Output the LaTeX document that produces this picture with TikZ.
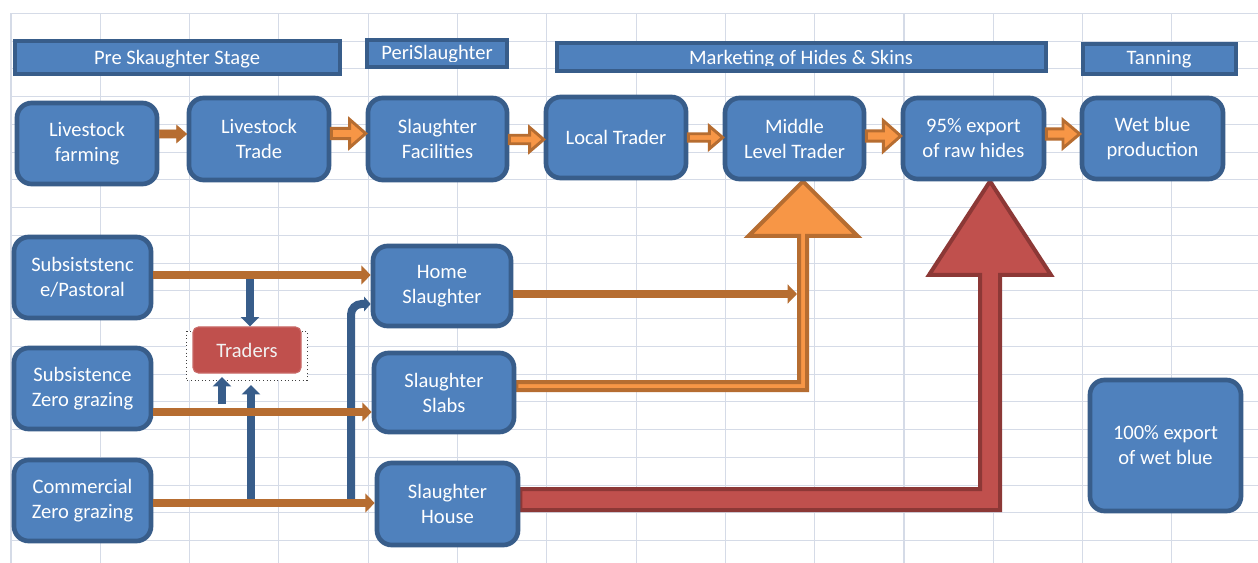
\documentclass[tikz,border=0pt]{standalone}
\usepackage{fontspec}
\setmainfont{Carlito}
\usetikzlibrary{arrows.meta,calc}
\pgfdeclarelayer{gridlayer}
\pgfdeclarelayer{bglayer}
\pgfsetlayers{gridlayer,bglayer,main}
\definecolor{bfill}{HTML}{4F81BD}
\definecolor{bline}{HTML}{385D8A}
\definecolor{brn}{HTML}{B66D31}
\definecolor{org}{HTML}{F79646}
\definecolor{rfill}{HTML}{C0504D}
\definecolor{rline}{HTML}{8C3836}
\definecolor{gridc}{HTML}{D5DBE7}
\newcommand\myfs{\fontsize{15.4pt}{18.75pt}\selectfont}
\tikzset{
  box/.style={draw=bline, fill=bfill, line width=3.5pt, rounded corners=11pt,
    inner sep=0pt, text=white, align=center, font=\myfs},
  hdr/.style={draw=bline, fill=bfill, line width=3pt, inner sep=0pt},
  hdrtext/.style={anchor=base, text=white, font=\myfs, inner sep=0pt},
  gridline/.style={draw=gridc, line width=0.8pt},
  solidarr/.style={fill=brn, draw=brn, line width=0.5pt},
  orgarr/.style={fill=org, draw=brn, line width=2.2pt, line join=miter},
  bigorg/.style={fill=org, draw=brn, line width=3pt, line join=miter},
  bigred/.style={fill=rfill, draw=rline, line width=3pt, line join=miter},
  brnline/.style={draw=brn, line width=6pt, -{Triangle[length=7pt,width=14pt]}},
  blueline/.style={draw=bline, line width=6pt, -{Triangle[length=7pt,width=13.5pt]}},
  traderbox/.style={fill=rfill, draw=rfill!85!white, line width=0.8pt, rounded corners=4pt,
    inner sep=0pt, text=white!95!black, font=\myfs},
  selframe/.style={draw=black!75, dotted, line width=0.7pt, fill=white},
}
% node with given pixel extents: style, name, x1, y1, x2, y2, text
\newcommand\bx[7]{%
  \node[#1, minimum width={(#5-#3)*0.75pt}, minimum height={(#6-#4)*0.75pt}]
    (#2) at ({(#3+#5)/2},{(#4+#6)/2}) {#7};}
% style, from node, to node, y (px), half shaft, half head, head length
\newcommand\blockarr[7]{%
  \path[#1] let \p1=(#2 |- 0,#4), \p2=(#3 |- 0,#4) in
   (\x1,\y1+#5) -- (\x2-#7,\y1+#5) -- (\x2-#7,\y1+#6) -- (\x2,\y1)
   -- (\x2-#7,\y1-#6) -- (\x2-#7,\y1-#5) -- (\x1,\y1-#5) -- cycle;}
\begin{document}
\begin{tikzpicture}[x=0.75pt, y=-0.75pt]
\useasboundingbox (0,0) rectangle (1258,563);
\begin{pgfonlayer}{gridlayer}
\fill[white] (0,0) rectangle (1258,563);
\foreach \k in {0,...,13} \draw[gridline] (11+89.3*\k,13.3) -- (11+89.3*\k,563);
\foreach \k in {0,...,19} \draw[gridline] (11,13.3+27.75*\k) -- (1258,13.3+27.75*\k);
\end{pgfonlayer}

% header bars
\bx{hdr}{h1}{14.5}{41.5}{339.5}{74.5}{}
\node[hdrtext] (h1t) at (177,65) {Pre Skaughter Stage};
\bx{hdr}{h2}{366.5}{40.5}{506.5}{67.5}{}
\begin{scope}
  \clip (366.5,40.5) rectangle (506.5,61.5);
  \node[hdrtext] (h2t) at (437,60) {PeriSlaughter};
\end{scope}
\bx{hdr}{h3}{556.5}{43.5}{1045.5}{71.5}{}
\begin{scope}
  \clip (556.5,43.5) rectangle (1045.5,65.8);
  \node[hdrtext] (h3t) at (801,64.5) {Marketing of Hides \& Skins};
\end{scope}
\bx{hdr}{h4}{1082.5}{44.5}{1235.5}{74.5}{}
\node[hdrtext] (h4t) at (1159,65) {Tanning};

% top row boxes
\bx{box}{lf}{17}{103}{157}{184}{Livestock\\farming}
\bx{box}{lt}{189}{98}{329}{180}{Livestock\\Trade}
\bx{box}{sf}{368}{98}{507}{180}{Slaughter\\Facilities}
\bx{box}{lo}{546}{97}{686}{178}{Local Trader}
\bx{box}{ml}{725}{98}{864}{179}{Middle\\Level Trader}
\bx{box}{ex}{903}{98}{1044}{179}{95\% export\\of raw hides}
\bx{box}{wb}{1082}{98}{1223}{179}{Wet blue\\production}

% lower boxes
\bx{box}{sp}{14}{237}{151}{318}{Subsiststenc\\e/Pastoral}
\bx{box}{sz}{14}{348}{151}{429}{Subsistence\\Zero grazing}
\bx{box}{cz}{14}{460}{151}{541}{Commercial\\Zero grazing}
\bx{box}{hs}{373}{246}{511}{326}{Home\\Slaughter}
\bx{box}{ss}{374}{353}{514}{432}{Slaughter\\Slabs}
\bx{box}{sh}{377}{463}{518}{545}{Slaughter\\House}
\bx{box}{wx}{1090}{380}{1241}{511}{100\% export\\of wet blue}

% big block arrows (behind the boxes)
\begin{pgfonlayer}{bglayer}
\draw[bigorg] (ss.east |- 0,382) -- (799,382) -- (799,236) -- (748.5,236)
  -- (803,0 |- ml.south) -- (857.5,236) -- (807,236) -- (807,390)
  -- (ss.east |- 0,390) -- cycle;
\draw[bigred] (sh.east |- 0,489) -- (980,489) -- (980,275) -- (929,275)
  -- (990,0 |- ex.south) -- (1051,275) -- (1000,275) -- (1000,510)
  -- (sh.east |- 0,510) -- cycle;
\end{pgfonlayer}

% traders
\draw[selframe] (186,331) rectangle (307,380);
\bx{traderbox}{tr}{193}{327}{301}{373}{Traders}

% blue connectors
\coordinate (j1) at (250,275);
\coordinate (j2) at (222,404);
\coordinate (j2t) at (222,377);
\coordinate (j3) at (251,500);
\coordinate (j3t) at (251,385);
\coordinate (j4) at (351,502);
\draw[blueline] (j1) -- (j1 |- tr.north);
\draw[blueline] (j2) -- (j2t);
\draw[blueline] (j3) -- (j3t);
\draw[draw=bline, line width=6pt, rounded corners=8pt, -{Triangle[length=5pt,width=11pt]}]
  (j4) |- (hs.west |- 0,304);

% brown connectors
\coordinate (mlin) at (797,294);
\draw[brnline] (sp.east |- 0,275) -- (hs.west |- 0,275);
\draw[brnline] (sz.east |- 0,412) -- (ss.west |- 0,412);
\draw[brnline] (cz.east |- 0,503) -- (sh.west |- 0,503);
\draw[brnline] (hs.east |- mlin) -- (mlin);

% top row block arrows
\blockarr{solidarr}{lf.east}{lt.west}{134}{3pt}{6.5pt}{7.5pt}
\blockarr{orgarr}{lt.east}{sf.west}{133.5}{3.8pt}{10.5pt}{12pt}
\blockarr{orgarr}{sf.east}{lo.west}{139.5}{3.2pt}{9pt}{10.5pt}
\blockarr{orgarr}{lo.east}{ml.west}{137.5}{2.8pt}{8.5pt}{10pt}
\blockarr{orgarr}{ml.east}{ex.west}{136}{3.8pt}{11.5pt}{13pt}
\blockarr{orgarr}{ex.east}{wb.west}{134}{3.8pt}{10.5pt}{12.5pt}
\end{tikzpicture}
\end{document}
